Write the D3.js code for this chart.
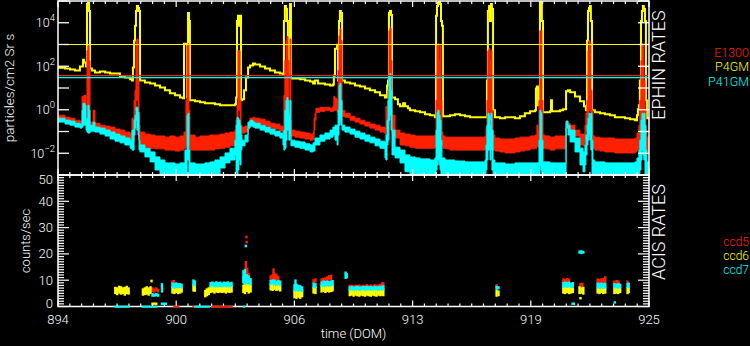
<!DOCTYPE html>
<html>
<head>
<meta charset="utf-8">
<script src="https://cdn.jsdelivr.net/npm/d3@7"></script>
<style>
  html, body { margin: 0; padding: 0; background: #000; }
  svg { display: block; }
  text { font-family: Roboto, "DejaVu Sans", sans-serif; font-weight: 300; fill: #fff; }
</style>
</head>
<body>
<svg id="chart" width="750" height="346"></svg>
<script>
// ---- time axis (day of mission) ----
const timeDomain = [894, 925];
const timeTicks = [894, 900.2, 906.4, 912.6, 918.8, 925];
const timeTickLabels = ["894", "900", "906", "913", "919", "925"];

// ---- EPHIN rates (particles/cm2 Sr s) ----
const ephinDomain = [1e-3, 1e5];
const ephinTicks = [1e-3, 1e-2, 1e-1, 1, 1e1, 1e2, 1e3, 1e4, 1e5];
const ephinLabelled = [1e-2, 1, 1e2, 1e4];
const ephinLimits = [
  { name: "P4GM", value: 1000, color: "#ffff00" },
  { name: "E1300", value: 37, color: "#ff2000" },
  { name: "P41GM", value: 30, color: "#00ffff" }
];

// P4GM: [DOM, rate]
const p4gm = [
  [894.00,85],[894.37,79],[894.63,71],[894.89,64],[895.05,64],[895.15,97],[895.31,200],[895.36,148],[895.47,97],
  [895.52,73000],[895.57,81000],[895.63,35000],[895.68,79],[895.78,64],[895.94,52],[896.20,57],[896.47,52],
  [896.73,46],[897.15,46],[897.25,34],[897.51,30],[897.78,25],[897.88,22],[897.93,87],[897.99,1500],[898.04,7200],
  [898.09,35000],[898.14,59000],[898.20,48000],[898.25,35000],[898.30,22],[898.56,18],[898.83,16],[899.09,13],
  [899.35,10.6],[899.61,7.8],[899.87,5.7],[900.14,4.6],[900.40,3.7],[900.56,3.35],[900.61,1090],[900.71,1090],
  [900.77,3.7],[900.82,28000],[900.87,12000],[900.92,2.7],[901.19,2.44],[901.45,2.2],[901.71,2.0],[901.97,2.0],
  [902.23,1.78],[902.50,1.6],[902.76,1.6],[903.02,1.6],[903.28,1.78],[903.34,3.7],[903.39,12000],[903.44,21000],
  [903.49,7200],[903.55,21000],[903.60,2.7],[903.65,3.0],[903.76,7.8],[903.86,30],[903.97,87],[904.07,108],
  [904.23,133],[904.33,120],[904.60,97],[904.86,79],[905.12,64],[905.38,52],[905.64,46],[905.80,42],[905.85,12000],
  [905.90,59000],[905.96,43000],[906.01,12000],[906.06,1500],[906.11,38],[906.17,73000],[906.22,27],[906.43,27],
  [906.69,25],[906.96,22],[907.22,20],[907.38,16],[907.48,22],[907.64,16],[908.00,14.6],[908.27,13],[908.42,14.6],
  [908.47,38],[908.53,640],[908.64,980],[908.69,22],[908.74,12000],[908.79,35000],[908.84,28000],[908.90,22],
  [909.05,18],[909.32,16],[909.58,13],[909.84,11.8],[910.10,9.6],[910.36,7.8],[910.63,6.3],[910.89,4.6],[911.15,3.7],
  [911.26,13],[911.31,22],[911.36,28000],[911.41,35000],[911.47,23000],[911.52,3.7],[911.68,3.0],[911.83,1.78],
  [911.94,1.44],[912.10,2.0],[912.20,1.44],[912.36,1.17],[912.46,0.95],[912.73,0.85],[912.99,0.77],[913.25,0.62],
  [913.51,0.56],[913.77,0.45],[913.83,21000],[913.88,59000],[913.93,81000],[913.99,100000],[914.04,73000],
  [914.09,12000],[914.14,7200],[914.19,0.5],[914.30,0.5],[914.56,0.56],[914.82,0.62],[915.09,0.56],[915.35,0.5],
  [915.61,0.45],[915.87,0.45],[916.13,0.45],[916.40,0.45],[916.50,22],[916.55,35000],[916.61,59000],[916.66,12000],
  [916.71,73000],[916.76,43000],[916.82,0.95],[916.92,0.45],[917.18,0.41],[917.45,0.45],[917.71,0.45],[917.97,0.41],
  [918.23,0.5],[918.49,0.69],[918.76,0.85],[919.02,0.95],[919.07,9.6],[919.12,11.8],[919.18,1.6],[919.23,9.6],
  [919.28,100000],[919.33,81000],[919.38,12000],[919.44,0.77],[919.54,0.77],[919.81,0.85],[919.86,2.7],[919.91,0.85],
  [920.07,0.85],[920.33,0.95],[920.49,1.05],[920.65,7.0],[920.75,7.8],[920.86,6.3],[921.12,4.1],[921.38,2.44],
  [921.59,1.44],[921.69,0.95],[921.75,1500],[921.80,35000],[921.85,48000],[921.90,59000],[921.95,12000],[922.01,0.95],
  [922.16,0.77],[922.43,0.69],[922.69,0.62],[922.95,0.56],[923.21,0.45],[923.48,0.45],[923.74,0.41],[924.00,0.37],
  [924.26,0.33],[924.37,0.56],[924.42,1.05],[924.47,1.6],[924.52,22],[924.58,12000],[924.63,35000],[924.68,59000],
  [924.73,43000],[924.79,12000],[924.84,2.7],[924.89,0.41],[925.00,0.45]
];

// E1300: [DOM, low, high] spread of the samples in each interval
const e1300 = [
  [894.00,0.41,0.56],[894.37,0.33,0.45],[894.63,0.30,0.41],[894.89,0.22,0.33],[895.15,0.196,0.30],[895.26,0.22,4.1],
  [895.36,0.24,4.6],[895.47,0.177,0.33],[895.52,0.41,520],[895.57,0.95,880],[895.63,0.196,182],[895.68,0.159,0.27],
  [895.84,0.159,0.95],[895.94,0.143,0.24],[896.20,0.116,0.196],[896.47,0.104,0.177],[896.73,0.085,0.159],
  [896.99,0.069,0.129],[897.25,0.055,0.116],[897.51,0.045,0.094],[897.78,0.036,0.085],[897.88,0.040,0.41],
  [897.99,0.33,2.7],[898.04,0.95,7.8],[898.09,2.7,1500],[898.14,2.7,1800],[898.20,0.56,22],[898.25,0.040,0.196],
  [898.30,0.022,0.094],[898.56,0.019,0.076],[898.83,0.017,0.069],[899.09,0.016,0.062],[899.35,0.016,0.062],
  [899.61,0.014,0.055],[899.87,0.014,0.062],[900.14,0.0127,0.055],[900.40,0.014,0.062],[900.61,0.017,0.094],
  [900.71,0.024,2.7],[900.77,0.33,880],[900.82,0.33,1090],[900.87,0.024,0.95],[900.92,0.014,0.069],[901.19,0.014,0.055],
  [901.45,0.014,0.062],[901.71,0.014,0.062],[901.97,0.014,0.069],[902.23,0.016,0.069],[902.50,0.017,0.076],
  [902.76,0.019,0.085],[903.02,0.022,0.094],[903.28,0.033,0.116],[903.34,0.040,0.33],[903.39,0.050,1.6],
  [903.44,0.95,520],[903.49,0.95,520],[903.55,0.196,2.7],[903.60,0.069,0.196],[903.65,0.085,0.159],[903.81,0.094,0.177],
  [903.97,0.143,0.27],[904.07,0.24,0.41],[904.23,0.27,0.45],[904.33,0.24,0.41],[904.60,0.22,0.37],[904.86,0.177,0.30],
  [905.12,0.143,0.24],[905.38,0.129,0.22],[905.64,0.104,0.177],[905.80,0.085,0.159],[905.85,0.116,4.6],
  [905.90,0.33,182],[905.96,2.7,1500],[906.01,2.7,2300],[906.06,0.33,182],[906.11,0.116,0.95],[906.17,0.33,1800],
  [906.22,0.062,0.116],[906.43,0.055,0.104],[906.69,0.050,0.094],[906.96,0.045,0.085],[907.22,0.040,0.076],
  [907.38,0.045,0.085],[907.43,0.116,0.41],[907.48,0.33,0.69],[907.53,0.77,1.17],[907.74,0.85,1.3],[908.00,0.95,1.3],
  [908.27,0.85,1.17],[908.42,0.85,1.44],[908.47,0.95,4.1],[908.53,0.95,3.35],[908.64,0.77,2.7],[908.69,0.95,64],
  [908.74,2.7,2500],[908.79,2.7,5300],[908.84,0.95,1500],[908.90,0.50,0.95],[909.05,0.45,0.69],[909.32,0.33,0.50],
  [909.58,0.27,0.41],[909.84,0.22,0.33],[910.10,0.177,0.27],[910.36,0.143,0.22],[910.63,0.116,0.196],
  [910.89,0.094,0.159],[911.15,0.076,0.143],[911.20,0.116,1.44],[911.26,0.069,0.196],[911.31,0.196,7.8],
  [911.36,2.7,4300],[911.41,2.7,5800],[911.47,0.95,182],[911.52,0.085,0.56],[911.68,0.050,0.116],[911.94,0.024,0.085],
  [912.20,0.022,0.076],[912.46,0.019,0.069],[912.73,0.017,0.062],[912.99,0.017,0.062],[913.25,0.017,0.062],
  [913.51,0.017,0.062],[913.77,0.019,0.069],[913.83,0.040,2.7],[913.88,0.33,880],[913.93,0.95,1090],[913.99,0.33,182],
  [914.04,0.33,880],[914.09,0.069,2.7],[914.14,0.024,0.094],[914.19,0.017,0.062],[914.30,0.016,0.055],
  [914.56,0.014,0.055],[914.82,0.014,0.055],[915.09,0.014,0.055],[915.35,0.014,0.055],[915.61,0.014,0.055],
  [915.87,0.014,0.055],[916.13,0.014,0.055],[916.40,0.016,0.062],[916.45,0.024,0.143],[916.50,0.040,2.7],
  [916.55,0.33,520],[916.61,0.56,640],[916.66,0.33,182],[916.71,0.33,520],[916.76,0.040,0.95],[916.82,0.014,0.069],
  [916.92,0.0127,0.050],[917.18,0.0115,0.045],[917.45,0.0103,0.045],[917.71,0.0103,0.045],[917.97,0.0115,0.050],
  [918.23,0.0127,0.055],[918.49,0.014,0.055],[918.76,0.016,0.062],[919.02,0.017,0.069],[919.12,0.022,0.196],
  [919.18,0.019,0.116],[919.23,0.024,2.7],[919.28,0.95,4300],[919.33,0.95,4300],[919.38,0.040,2.7],[919.44,0.017,0.069],
  [919.54,0.016,0.062],[919.81,0.014,0.055],[920.07,0.016,0.062],[920.33,0.016,0.062],[920.60,0.016,0.062],
  [920.65,0.22,0.30],[920.75,0.159,0.24],[920.86,0.116,0.196],[921.12,0.062,0.116],[921.38,0.024,0.076],
  [921.54,0.022,0.076],[921.64,0.040,0.196],[921.69,0.116,0.69],[921.75,0.196,2.7],[921.80,0.56,520],
  [921.85,0.95,1500],[921.90,0.95,1200],[921.95,0.33,7.8],[922.01,0.069,0.95],[922.06,0.017,0.062],
  [922.16,0.014,0.055],[922.43,0.0127,0.050],[922.69,0.0115,0.050],[922.95,0.0115,0.050],[923.21,0.0103,0.045],
  [923.48,0.0103,0.045],[923.74,0.0103,0.045],[924.00,0.0103,0.045],[924.26,0.0115,0.050],[924.37,0.014,0.085],
  [924.47,0.017,0.196],[924.52,0.040,2.7],[924.58,0.116,182],[924.63,0.33,1090],[924.68,0.33,880],[924.73,0.116,22],
  [924.79,0.024,0.95],[924.84,0.014,0.116],[924.89,0.0115,0.055],[925.00,0.0115,0.050]
];

// P41GM: [DOM, low, high]
const p41gm = [
  [894.00,0.27,0.41],[894.37,0.22,0.33],[894.63,0.196,0.30],[894.89,0.159,0.24],[895.15,0.143,0.22],[895.26,0.159,0.95],
  [895.31,0.196,1.98],[895.42,0.196,1.6],[895.47,0.116,0.33],[895.52,0.094,0.41],[895.57,0.085,1.6],[895.63,0.085,0.95],
  [895.68,0.104,0.196],[895.84,0.104,0.27],[895.94,0.094,0.159],[896.20,0.076,0.143],[896.47,0.062,0.116],
  [896.73,0.045,0.094],[896.99,0.036,0.076],[897.25,0.030,0.062],[897.51,0.024,0.050],[897.78,0.017,0.040],
  [897.88,0.014,0.116],[897.99,0.069,0.33],[898.04,0.143,0.56],[898.09,0.33,1.3],[898.14,0.116,1.3],[898.20,0.069,0.77],
  [898.25,0.014,0.040],[898.30,0.0115,0.024],[898.56,0.0068,0.017],[898.83,0.0040,0.0115],[899.09,0.0017,0.0068],
  [899.35,0.0005,0.0049],[899.61,0.0005,0.0036],[899.87,0.0005,0.0036],[900.14,0.0005,0.0032],[900.40,0.0005,0.0036],
  [900.66,0.0005,0.014],[900.77,0.0049,0.56],[900.82,0.0049,0.69],[900.87,0.0005,0.014],[900.92,0.0005,0.0036],
  [901.19,0.0005,0.0032],[901.45,0.0005,0.0032],[901.71,0.0005,0.0036],[901.97,0.0005,0.0040],[902.23,0.001,0.0049],
  [902.50,0.0021,0.0068],[902.76,0.0036,0.0103],[903.02,0.0049,0.017],[903.28,0.0084,0.040],[903.34,0.00126,0.196],
  [903.39,0.001,0.45],[903.44,0.0017,0.41],[903.49,0.0049,0.33],[903.55,0.0029,0.196],[903.60,0.014,0.069],
  [903.65,0.022,0.040],[903.81,0.033,0.069],[903.97,0.143,0.27],[904.07,0.177,0.33],[904.23,0.159,0.27],
  [904.33,0.143,0.24],[904.60,0.116,0.196],[904.86,0.094,0.159],[905.12,0.076,0.129],[905.38,0.062,0.104],
  [905.64,0.050,0.085],[905.80,0.024,0.069],[905.85,0.014,0.116],[905.90,0.017,0.95],[905.96,0.040,2.7],
  [906.01,0.116,3.7],[906.06,0.116,2.7],[906.11,0.040,0.56],[906.17,0.069,2.7],[906.22,0.022,0.040],
  [906.43,0.019,0.036],[906.69,0.017,0.033],[906.96,0.014,0.027],[907.22,0.0115,0.024],[907.38,0.0127,0.030],
  [907.48,0.024,0.050],[907.74,0.036,0.069],[908.00,0.045,0.085],[908.27,0.055,0.116],[908.42,0.069,0.159],
  [908.53,0.040,0.196],[908.64,0.024,0.196],[908.69,0.069,0.95],[908.74,0.196,13],[908.79,0.33,16],[908.84,0.196,2.7],
  [908.90,0.116,0.196],[909.05,0.094,0.159],[909.32,0.076,0.129],[909.58,0.055,0.104],[909.84,0.045,0.085],
  [910.10,0.036,0.069],[910.36,0.030,0.055],[910.63,0.022,0.045],[910.89,0.017,0.036],[911.15,0.0061,0.030],
  [911.20,0.0049,0.069],[911.26,0.024,0.33],[911.31,0.040,2.7],[911.36,0.33,38],[911.41,0.56,46],[911.47,0.116,7.8],
  [911.52,0.0084,0.116],[911.68,0.0061,0.019],[911.94,0.0036,0.014],[912.20,0.0014,0.0084],[912.46,0.0005,0.0068],
  [912.73,0.0005,0.0061],[912.99,0.0005,0.0055],[913.25,0.0005,0.0055],[913.51,0.0005,0.0049],[913.77,0.0005,0.0061],
  [913.83,0.0017,0.116],[913.88,0.0029,0.77],[913.93,0.0049,0.95],[913.99,0.0029,0.56],[914.04,0.0017,0.33],
  [914.09,0.001,0.040],[914.14,0.0005,0.0061],[914.30,0.0005,0.0049],[914.56,0.0005,0.0049],[914.82,0.0005,0.0044],
  [915.09,0.0005,0.0044],[915.35,0.0005,0.0040],[915.61,0.0005,0.0040],[915.87,0.0005,0.0040],[916.13,0.0005,0.0040],
  [916.40,0.0005,0.0049],[916.45,0.0017,0.024],[916.50,0.0049,0.196],[916.55,0.014,0.69],[916.61,0.014,0.56],
  [916.66,0.0049,0.196],[916.71,0.014,0.69],[916.76,0.0017,0.116],[916.82,0.0005,0.0049],[916.92,0.0005,0.0036],
  [917.45,0.0005,0.0032],[917.97,0.0005,0.0036],[918.49,0.0005,0.0036],[919.02,0.0005,0.0036],[919.23,0.001,0.040],
  [919.28,0.0029,0.95],[919.33,0.0017,0.77],[919.38,0.001,0.040],[919.44,0.0005,0.0040],[919.81,0.0005,0.0036],
  [920.33,0.0005,0.0036],[920.60,0.0005,0.0036],[920.65,0.143,0.30],[920.75,0.069,0.196],[920.86,0.033,0.116],
  [921.12,0.0115,0.050],[921.38,0.0029,0.017],[921.54,0.0014,0.0115],[921.64,0.0029,0.024],[921.69,0.0084,0.069],
  [921.75,0.024,0.196],[921.80,0.040,0.41],[921.85,0.069,0.69],[921.90,0.040,0.56],[921.95,0.014,0.69],
  [922.01,0.001,0.040],[922.06,0.0005,0.0049],[922.16,0.0005,0.0040],[922.69,0.0005,0.0036],[923.21,0.0005,0.0036],
  [923.74,0.0005,0.0036],[924.26,0.0005,0.0040],[924.37,0.0005,0.0061],[924.47,0.0007,0.014],[924.52,0.0017,0.040],
  [924.58,0.0049,0.33],[924.63,0.014,0.69],[924.68,0.0084,0.56],[924.73,0.0049,0.69],[924.79,0.001,0.196],
  [924.84,0.0005,0.014],[924.89,0.0005,0.0040],[925.00,0.0005,0.0040]
];

// ---- ACIS rates (counts/sec): [DOM, low, high] per sample ----
const acisDomain = [0, 50];
const acisTicks = [0, 10, 20, 30, 40, 50];

const ccd5 = [
  [898.95,5.8,7.0],[899.05,5.6,6.6],[899.15,6.0,7.0],[899.25,5.6,6.4],
  [900.00,8.8,9.6],[900.08,8.9,9.8],
  [903.72,9.4,11.0],[903.80,9.6,12.0],[903.85,11.0,17.0],[903.88,26.2,26.6],[903.89,24.3,24.7],[903.92,10.5,14.5],[904.00,10.0,12.5],
  [905.15,10.0,11.6],[905.25,10.2,12.0],[905.30,11.0,14.2],[905.35,10.2,12.6],[905.45,10.4,12.2],[905.55,10.0,11.4],
  [907.40,9.3,10.1],[907.50,9.4,10.4],
  [907.82,9.4,10.4],[907.92,9.6,10.6],[908.02,9.8,10.8],[908.12,10.0,11.2],[908.22,10.2,11.6],[908.32,10.4,11.8],
  [909.30,7.4,8.0],[909.40,7.6,8.0],[909.50,7.4,7.8],[909.60,7.5,8.0],[909.70,7.4,7.9],[909.80,7.6,8.1],[909.90,7.4,7.8],
  [910.00,7.5,8.0],[910.10,7.4,7.9],[910.20,7.6,8.2],[910.30,7.4,7.9],[910.40,7.5,8.1],[910.50,7.4,7.8],[910.60,7.6,8.2],
  [910.70,7.5,8.0],[910.80,7.4,8.1],[910.90,7.6,8.4],[911.00,7.6,8.9],[911.06,7.8,8.9],
  [917.00,7.4,8.2],
  [920.50,9.4,10.4],[920.60,9.3,10.2],[920.70,9.4,10.5],[920.80,9.6,10.4],
  [921.40,7.6,8.6],[921.50,7.8,8.8],
  [922.30,9.0,10.4],[922.40,9.2,10.2],[922.50,9.0,10.4],[922.60,9.2,10.6],[922.70,9.4,11.2],
  [923.18,8.6,9.6],[923.30,8.8,9.8],[923.40,8.6,9.6],
  [923.87,8.8,9.6],
  [900.10,0,0],[900.20,0,0],[900.30,0,0],[901.10,0,0],[902.10,0,0],[902.20,0,0],[902.30,0,0],[902.40,0,0],[902.50,0,0],
  [902.60,0,0],[902.70,0,0],[902.80,0,0],[902.90,0,0],[903.00,0,0],[903.10,0,0]
];

const ccd6 = [
  [897.00,5.0,7.2],[897.10,4.6,7.0],[897.20,5.2,7.6],[897.30,4.8,7.4],[897.40,5.0,7.0],[897.50,4.4,7.2],[897.60,5.0,7.6],[897.70,4.8,7.0],
  [898.45,4.4,6.6],[898.55,4.6,7.0],[898.65,4.8,7.4],[898.75,4.4,7.0],[898.85,5.0,7.4],[898.90,9.5,9.9],
  [898.95,0.9,1.2],[899.05,0.9,1.2],[899.15,0.9,1.2],
  [900.00,5.2,7.4],[900.10,5.0,7.0],[900.20,5.4,7.4],[900.30,5.0,7.2],[900.40,5.2,7.0],[900.48,5.6,7.0],
  [901.10,6.0,8.2],[901.17,5.9,7.6],
  [901.72,3.8,6.0],[901.80,4.2,6.6],[901.90,4.6,7.0],[902.00,5.4,7.6],[902.10,5.6,7.8],[902.20,5.2,7.6],[902.30,5.6,8.0],
  [902.40,5.4,7.6],[902.50,5.6,7.8],[902.60,5.4,7.8],[902.70,5.6,8.0],[902.80,5.2,7.6],[902.90,5.6,7.8],[903.00,5.4,7.6],[903.10,5.6,7.8],
  [903.72,5.4,8.0],[903.80,5.0,8.6],[903.90,5.8,8.8],[904.00,5.2,8.4],[904.10,5.6,8.0],
  [905.15,6.4,8.4],[905.25,6.2,8.6],[905.35,6.6,8.4],[905.45,6.2,8.2],[905.55,6.4,8.6],[905.65,6.0,8.0],
  [906.40,3.4,6.0],[906.50,3.2,6.2],[906.60,3.6,6.4],[906.70,3.2,6.0],[906.80,3.8,6.2],
  [907.40,5.2,7.2],[907.50,5.0,7.4],
  [907.82,5.6,8.0],[907.92,5.8,8.2],[908.02,5.4,8.0],[908.12,5.8,8.2],[908.22,5.6,8.0],[908.32,5.8,8.0],[908.40,6.0,8.2],
  [909.30,4.2,6.4],[909.40,4.4,6.6],[909.50,4.0,6.2],[909.60,4.4,6.4],[909.70,4.2,6.6],[909.80,4.0,6.4],[909.90,4.4,6.2],
  [910.00,4.2,6.4],[910.10,4.0,6.6],[910.20,4.4,6.4],[910.30,4.2,6.2],[910.40,4.0,6.4],[910.50,4.4,6.6],[910.60,4.2,6.4],
  [910.70,4.0,6.2],[910.80,4.4,6.4],[910.90,4.2,6.6],[911.00,4.4,6.4],[911.06,4.2,6.6],
  [917.00,4.0,6.0],[917.10,4.2,5.8],
  [920.50,5.2,7.4],[920.60,5.0,7.2],[920.70,5.4,7.6],[920.80,5.0,7.2],[920.90,5.2,7.4],[921.00,5.4,7.0],
  [921.35,5.0,7.4],[921.45,5.2,7.0],[921.55,4.8,7.2],[921.40,3.0,3.3],
  [922.30,5.2,7.0],[922.40,5.0,7.2],[922.50,5.4,7.0],[922.60,5.0,7.2],[922.70,5.2,7.0],
  [923.18,5.0,7.0],[923.28,5.2,7.2],[923.38,5.0,7.0],[923.48,5.4,7.0],
  [923.87,5.0,7.2],[923.93,5.4,7.0]
];

const ccd7 = [
  [898.95,4.0,4.8],[899.05,4.0,4.6],[899.15,4.2,4.8],[899.25,4.0,4.6],[899.45,5.6,8.6],
  [899.45,0.9,1.2],[899.55,0.9,1.2],[899.65,0.9,1.2],
  [900.00,7.4,8.8],[900.10,7.0,8.6],[900.20,7.4,8.9],[900.30,7.2,8.6],[900.40,7.4,8.6],[900.48,7.2,8.4],
  [901.10,8.2,10.0],[901.17,8.0,9.6],
  [902.00,7.6,9.0],[902.10,7.8,9.2],[902.20,7.6,8.9],[902.30,7.8,9.3],[902.40,7.6,9.0],[902.50,7.7,9.2],[902.60,7.6,8.8],
  [902.70,7.8,9.2],[902.80,7.6,9.0],[902.90,7.8,9.3],[903.00,7.6,8.9],[903.10,7.7,9.1],
  [903.72,9.0,13.5],[903.80,8.6,14.0],[903.85,22.8,23.2],[903.90,8.8,12.0],[904.00,9.0,11.5],[904.10,8.4,10.5],
  [905.15,8.4,9.8],[905.25,8.6,10.0],[905.35,8.4,10.0],[905.45,8.2,9.6],[905.55,8.4,9.8],[905.65,8.2,9.6],
  [906.40,6.0,8.2],[906.45,6.2,10.0],[906.50,6.2,8.4],[906.60,6.0,8.0],[906.70,6.2,7.8],[906.80,5.8,7.4],
  [907.40,7.4,8.8],[907.50,7.2,8.6],
  [907.82,7.8,9.2],[907.92,8.0,9.6],[908.02,7.8,9.4],[908.12,8.0,9.6],[908.22,7.8,9.4],[908.32,8.0,9.6],[908.40,8.2,9.8],
  [909.08,10.8,13.0],[909.14,11.0,12.4],
  [909.30,6.4,7.4],[909.40,6.5,7.5],[909.50,6.3,7.3],[909.60,6.4,7.4],[909.70,6.5,7.6],[909.80,6.3,7.4],[909.90,6.4,7.3],
  [910.00,6.5,7.5],[910.10,6.3,7.4],[910.20,6.4,7.6],[910.30,6.5,7.4],[910.40,6.3,7.5],[910.50,6.4,7.3],[910.60,6.5,7.6],
  [910.70,6.4,7.4],[910.80,6.3,7.5],[910.90,6.5,7.6],[911.00,6.4,7.6],[911.06,6.6,7.8],
  [917.00,6.6,7.6],[917.10,6.8,7.4],
  [920.50,7.4,9.0],[920.60,7.6,9.2],[920.70,7.4,9.0],[920.80,7.6,9.2],[920.90,7.4,8.8],[921.00,7.6,9.0],
  [921.35,20.4,21.0],[921.45,20.2,21.1],[921.55,20.4,20.8],
  [922.30,7.2,8.8],[922.40,7.0,8.6],[922.50,7.2,8.8],[922.60,7.0,8.6],[922.70,7.2,8.8],
  [923.18,7.2,8.6],[923.28,7.4,8.4],[923.38,7.0,8.6],[923.48,7.2,8.4],
  [923.87,7.4,8.6],[923.93,7.2,8.8],
  [920.99,0.9,1.2],[921.05,0.9,1.2],[923.20,1.4,1.7],
  [897.00,0,0],[897.10,0,0],[897.20,0,0],[897.30,0,0],[897.40,0,0],[897.50,0,0],[897.60,0,0],[897.70,0,0],
  [898.45,0,0],[898.55,0,0],[898.65,0,0],[898.75,0,0],[898.85,0,0],[898.95,0,0],[899.05,0,0],[899.15,0,0],
  [901.20,0,0],[901.30,0,0],[901.40,0,0],[901.50,0,0],[901.60,0,0],[901.70,0,0],[901.80,0,0],[901.90,0,0],[903.75,0,0]
];

// ---- layout ----
const svg = d3.select("#chart");
const left = 58, right = 649;
const topPanel = { y0: 1, y1: 175 };
const botPanel = { y0: 175, y1: 306.5 };

const x = d3.scaleLinear().domain(timeDomain).range([left, right]);
const yE = d3.scaleLog().domain(ephinDomain).range([topPanel.y1, topPanel.y0]);
const yA = d3.scaleLinear().domain(acisDomain).range([botPanel.y1, botPanel.y0]);

const defs = svg.append("defs");
defs.append("clipPath").attr("id", "clipTop").append("rect")
  .attr("x", left).attr("y", topPanel.y0).attr("width", right - left).attr("height", topPanel.y1 - topPanel.y0);
defs.append("clipPath").attr("id", "clipBot").append("rect")
  .attr("x", left).attr("y", botPanel.y0).attr("width", right - left).attr("height", botPanel.y1 - botPanel.y0 + 2);

// ---- EPHIN panel data ----
const gTop = svg.append("g").attr("clip-path", "url(#clipTop)");

const bandArea = d3.area()
  .x(d => x(d[0]))
  .y0(d => yE(d[1]))
  .y1(d => yE(d[2]))
  .curve(d3.curveStepAfter);

gTop.append("path").datum(p4gm)
  .attr("d", d3.line().x(d => x(d[0])).y(d => yE(d[1])).curve(d3.curveStepAfter))
  .attr("fill", "none").attr("stroke", "#ffff00").attr("stroke-width", 2);

gTop.append("path").datum(e1300)
  .attr("d", bandArea)
  .attr("fill", "#ff2000").attr("stroke", "#ff2000").attr("stroke-width", 1);

gTop.append("path").datum(p41gm)
  .attr("d", bandArea)
  .attr("fill", "#00ffff").attr("stroke", "#00ffff").attr("stroke-width", 1);

ephinLimits.forEach(l => {
  svg.append("line")
    .attr("x1", left).attr("x2", right)
    .attr("y1", yE(l.value)).attr("y2", yE(l.value))
    .attr("stroke", l.color).attr("stroke-width", 1.1);
});

// ---- frames and ticks ----
const axisColor = "#ffffff";
function frame(p) {
  svg.append("rect")
    .attr("x", left).attr("y", p.y0).attr("width", right - left).attr("height", p.y1 - p.y0)
    .attr("fill", "none").attr("stroke", axisColor).attr("stroke-width", 1.5);
}
frame(topPanel);
frame(botPanel);

const minorTimes = d3.range(0, 51).map(i => timeDomain[0] + i * (timeDomain[1] - timeDomain[0]) / 50);
function timeTicksAt(yEdge, dir) {
  minorTimes.forEach((t, i) => {
    const len = i % 10 === 0 ? 6 : 3;
    svg.append("line")
      .attr("x1", x(t)).attr("x2", x(t))
      .attr("y1", yEdge).attr("y2", yEdge + dir * len)
      .attr("stroke", axisColor).attr("stroke-width", 1.2);
  });
}
timeTicksAt(topPanel.y0, 1);
timeTicksAt(topPanel.y1, -1);
timeTicksAt(botPanel.y0, 1);
timeTicksAt(botPanel.y1, -1);

// EPHIN decade ticks, both sides
ephinTicks.forEach(v => {
  const yy = yE(v);
  svg.append("line").attr("x1", left).attr("x2", left + 11).attr("y1", yy).attr("y2", yy)
    .attr("stroke", axisColor).attr("stroke-width", 1.3);
  svg.append("line").attr("x1", right - 11).attr("x2", right).attr("y1", yy).attr("y2", yy)
    .attr("stroke", axisColor).attr("stroke-width", 1.3);
});

// ACIS ticks: minor every 1, major every 10
d3.range(acisDomain[0], acisDomain[1] + 1).forEach(v => {
  const yy = yA(v);
  const len = v % 10 === 0 ? 11 : 6;
  svg.append("line").attr("x1", left).attr("x2", left + len).attr("y1", yy).attr("y2", yy)
    .attr("stroke", axisColor).attr("stroke-width", 1.2);
  svg.append("line").attr("x1", right - len).attr("x2", right).attr("y1", yy).attr("y2", yy)
    .attr("stroke", axisColor).attr("stroke-width", 1.2);
});

// ---- ACIS panel data ----
const gBot = svg.append("g").attr("clip-path", "url(#clipBot)");
function drawCcd(data, color) {
  gBot.append("g").selectAll("rect").data(data).join("rect")
    .attr("x", d => x(d[0]) - 1.1)
    .attr("width", 2.4)
    .attr("y", d => yA(d[2]) - 0.8)
    .attr("height", d => Math.max(yA(d[1]) - yA(d[2]) + 1.6, 2))
    .attr("fill", color);
}
drawCcd(ccd5, "#ff2000");
drawCcd(ccd6, "#ffff00");
drawCcd(ccd7, "#00ffff");

// ---- labels ----
timeTicks.forEach((t, i) => {
  svg.append("text").attr("x", x(t)).attr("y", 324)
    .attr("text-anchor", "middle").attr("font-size", 13)
    .text(timeTickLabels[i]);
});

ephinLabelled.forEach(v => {
  const exp = Math.round(Math.log10(v));
  const t = svg.append("text").attr("x", 55).attr("y", yE(v) + 4.5)
    .attr("text-anchor", "end").attr("font-size", 12.5);
  t.append("tspan").text("10");
  t.append("tspan").attr("dy", -6).attr("font-size", 9.5).text(exp < 0 ? "\u2212" + Math.abs(exp) : String(exp));
});

acisTicks.forEach(v => {
  const yy = Math.min(Math.max(yA(v), 179), 303);
  svg.append("text").attr("x", 53).attr("y", yy + 4.5)
    .attr("text-anchor", "end").attr("font-size", 13).text(String(v));
});

svg.append("text").attr("transform", "translate(14,88) rotate(-90)")
  .attr("text-anchor", "middle").attr("font-size", 13.5).text("particles/cm2 Sr s");
svg.append("text").attr("transform", "translate(30,241) rotate(-90)")
  .attr("text-anchor", "middle").attr("font-size", 13).text("counts/sec");
svg.append("text").attr("x", (left + right) / 2).attr("y", 338)
  .attr("text-anchor", "middle").attr("font-size", 13).text("time (DOM)");

svg.append("text").attr("transform", "translate(665,65) rotate(-90)")
  .attr("text-anchor", "middle").attr("font-size", 18).text("EPHIN RATES");
svg.append("text").attr("transform", "translate(665,232) rotate(-90)")
  .attr("text-anchor", "middle").attr("font-size", 18).text("ACIS RATES");

const ephinLegend = [["E1300", "#ff2000", 56.5], ["P4GM", "#ffff00", 71], ["P41GM", "#00ffff", 85.5]];
ephinLegend.forEach(([name, c, yy]) => {
  svg.append("text").attr("x", 749).attr("y", yy).attr("text-anchor", "end")
    .attr("font-size", 12.5).style("fill", c).text(name);
});
const acisLegend = [["ccd5", "#ff2000", 246], ["ccd6", "#ffff00", 260], ["ccd7", "#00ffff", 274]];
acisLegend.forEach(([name, c, yy]) => {
  svg.append("text").attr("x", 749).attr("y", yy).attr("text-anchor", "end")
    .attr("font-size", 12).style("fill", c).text(name);
});
</script>
</body>
</html>
